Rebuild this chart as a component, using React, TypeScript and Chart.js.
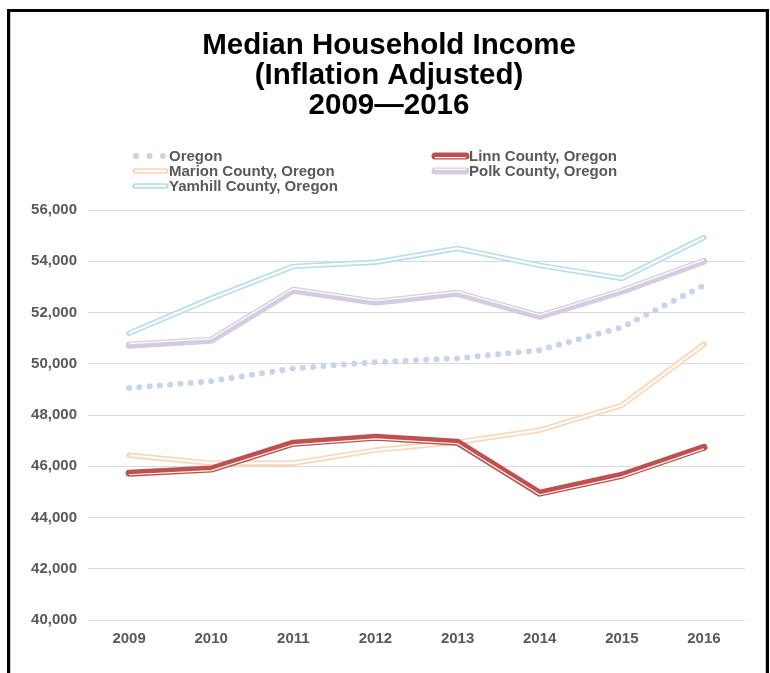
import React, { useEffect, useRef } from "react";
import { Chart, registerables } from "chart.js";

Chart.register(...registerables);

const years = ["2009", "2010", "2011", "2012", "2013", "2014", "2015", "2016"];
const oregon = [49050, 49320, 49820, 50060, 50210, 50530, 51420, 53060];
const linn = [45730, 45890, 46900, 47130, 46940, 44950, 45650, 46740];
const marion = [46430, 46120, 46120, 46630, 46940, 47410, 48380, 50760];
const polk = [50720, 50920, 52870, 52400, 52750, 51850, 52830, 54000];
const yamhill = [51190, 52550, 53800, 53960, 54500, 53840, 53330, 54930];

const titleLines = ["Median Household Income", "(Inflation Adjusted)", "2009\u20142016"];
const seriesNames = [
  "Oregon",
  "Linn County, Oregon",
  "Marion County, Oregon",
  "Polk County, Oregon",
  "Yamhill County, Oregon",
];

const yMin = 40000;
const yMax = 56000;
const yStep = 2000;

const FONT = "'Liberation Sans', Arial, sans-serif";
const TEXT = "#595959";

const colors = {
  oregon: "#c7d5ea",
  linn: "#c0504d",
  marion: "#fcd5b5",
  polk: "#d6cbe3",
  yamhill: "#b7dfe8",
};

// legend grid: [column, row]
const legendSlots = [
  [0, 0],
  [1, 0],
  [0, 1],
  [1, 1],
  [0, 2],
];

const innerLinePlugin = {
  id: "innerLine",
  afterDatasetDraw(chart: any, args: any) {
    const ds: any = chart.data.datasets[args.index];
    if (!ds.inner) return;
    const pts = args.meta.data;
    const ctx = chart.ctx;
    ctx.save();
    ctx.beginPath();
    pts.forEach((p: any, i: number) => {
      const y = p.y + ds.inner.offset;
      if (i === 0) ctx.moveTo(p.x, y);
      else ctx.lineTo(p.x, y);
    });
    ctx.strokeStyle = ds.inner.color;
    ctx.lineWidth = ds.inner.width;
    ctx.lineJoin = "round";
    ctx.lineCap = "butt";
    ctx.stroke();
    ctx.restore();
  },
};

const titleLegendPlugin = {
  id: "titleLegend",
  afterDraw(chart: any) {
    const ctx = chart.ctx;
    ctx.save();
    // title
    ctx.fillStyle = "#000000";
    ctx.textAlign = "center";
    ctx.textBaseline = "middle";
    ctx.font = `bold 29.5px ${FONT}`;
    titleLines.forEach((t, i) => ctx.fillText(t, 389, 46 + i * 30));

    // legend
    ctx.font = `bold 15px ${FONT}`;
    ctx.textAlign = "left";
    chart.data.datasets.forEach((ds: any) => {
      if (ds.legendIndex === undefined) return;
      const [col, row] = legendSlots[ds.legendIndex];
      const x0 = col === 0 ? 135 : 435;
      const y = 156 + row * 15;
      const x1 = x0 + 31;
      ctx.save();
      ctx.beginPath();
      if (ds.borderDash) {
        ctx.moveTo(x0 + 1, y);
        ctx.lineTo(x0 + 28.5, y);
        ctx.setLineDash([0, 13.5]);
      } else {
        ctx.moveTo(x0, y);
        ctx.lineTo(x1, y);
      }
      ctx.strokeStyle = ds.borderColor;
      ctx.lineWidth = ds.borderWidth;
      ctx.lineCap = "round";
      ctx.stroke();
      ctx.setLineDash([]);
      if (ds.inner) {
        ctx.beginPath();
        ctx.moveTo(x0, y + ds.inner.offset);
        ctx.lineTo(x1, y + ds.inner.offset);
        ctx.strokeStyle = ds.inner.color;
        ctx.lineWidth = ds.inner.width;
        ctx.lineCap = "butt";
        ctx.stroke();
      }
      ctx.restore();
      ctx.fillStyle = TEXT;
      ctx.fillText(ds.label, x1 + 3, y + 1);
    });
    ctx.restore();
  },
};

export default function App() {
  const ref = useRef<HTMLCanvasElement>(null);

  useEffect(() => {
    if (!ref.current) return;
    const common = {
      fill: false,
      tension: 0,
      pointRadius: 0,
      pointHoverRadius: 0,
      borderCapStyle: "round",
      borderJoinStyle: "round",
    };
    const chart = new Chart(ref.current, {
      type: "line",
      data: {
        labels: years,
        datasets: [
          {
            ...common,
            label: seriesNames[0],
            data: oregon,
            borderColor: colors.oregon,
            borderWidth: 6,
            borderDash: [0, 10.3],
            legendIndex: 0,
          } as any,
          {
            ...common,
            label: seriesNames[1],
            data: linn,
            borderColor: colors.linn,
            borderWidth: 7,
            inner: { color: "#ffffff", width: 1.2, offset: 1.6 },
            legendIndex: 1,
          } as any,
          {
            ...common,
            label: seriesNames[2],
            data: marion,
            borderColor: colors.marion,
            borderWidth: 5.5,
            inner: { color: "#ffffff", width: 2.2, offset: 0 },
            legendIndex: 2,
          } as any,
          {
            ...common,
            label: seriesNames[3],
            data: polk,
            borderColor: colors.polk,
            borderWidth: 7,
            inner: { color: "#ffffff", width: 1.2, offset: -1.6 },
            legendIndex: 3,
          } as any,
          {
            ...common,
            label: seriesNames[4],
            data: yamhill,
            borderColor: colors.yamhill,
            borderWidth: 5.5,
            inner: { color: "#ffffff", width: 2.2, offset: 0 },
            legendIndex: 4,
          } as any,
        ],
      },
      options: {
        animation: false,
        responsive: false,
        layout: { padding: { top: 210, right: 25, bottom: 0, left: 0 } },
        plugins: {
          legend: { display: false },
          title: { display: false },
          tooltip: { enabled: false },
        },
        scales: {
          x: {
            offset: true,
            grid: { display: false, drawTicks: false },
            border: { display: false },
            ticks: {
              color: TEXT,
              font: { family: FONT, size: 15, weight: "bold" },
              padding: 10,
            },
            afterFit: (s: any) => {
              s.height = 53;
            },
          },
          y: {
            min: yMin,
            max: yMax,
            grid: { color: "#d9d9d9", lineWidth: 1, drawTicks: false },
            border: { display: false },
            ticks: {
              stepSize: yStep,
              color: TEXT,
              font: { family: FONT, size: 15, weight: "bold" },
              padding: 11,
              callback: (v: any) => Number(v).toLocaleString("en-US"),
            },
            afterFit: (s: any) => {
              s.width = 88;
            },
          },
        },
      },
      plugins: [innerLinePlugin, titleLegendPlugin],
    } as any);
    return () => chart.destroy();
  }, []);

  return (
    <div style={{ position: "absolute", left: 0, top: 0, width: 770, height: 673, overflow: "hidden", background: "#fff" }}>
      <div
        style={{
          position: "absolute",
          left: 7,
          top: 9,
          width: 756,
          height: 700,
          borderTop: "3px solid #000",
          borderLeft: "3px solid #000",
          borderRight: "3px solid #000",
          boxSizing: "content-box",
        }}
      >
        <div style={{ position: "absolute", left: 0, top: 0, width: 756, height: 700, borderLeft: "1px solid #c8c8c8", borderRight: "1px solid #c8c8c8", boxSizing: "border-box" }} />
      </div>
      <canvas ref={ref} width={770} height={673} style={{ position: "absolute", left: 0, top: 0, width: 770, height: 673 }} />
    </div>
  );
}
